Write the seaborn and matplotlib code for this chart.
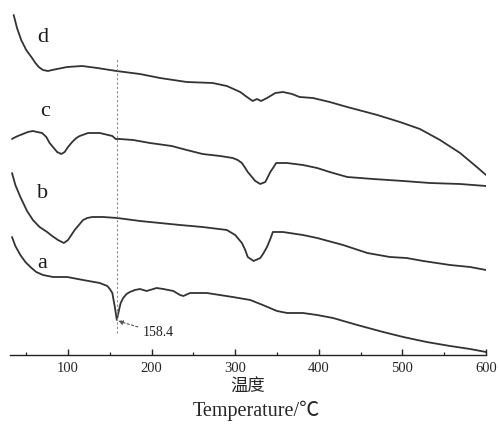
import numpy as np
import pandas as pd
import matplotlib
matplotlib.use("Agg")
import matplotlib.pyplot as plt
from matplotlib.ticker import MultipleLocator
import seaborn as sns

# DSC curves (temperature in degC, heat flow in arbitrary offset units)
temp_d = [35, 39, 44, 50, 57, 61, 65, 70, 76, 81, 87, 99, 117, 135, 158, 186, 210, 242,
          273, 290, 306, 314, 321, 326, 331, 338, 348, 357, 368, 377, 393, 413, 434,
          470, 497, 521, 545, 569, 589, 600]
heat_d = [340, 327, 315, 305, 297, 292, 288, 285, 284, 285, 286, 288, 289, 287, 284, 281, 277, 273,
          272, 269, 263, 258, 254, 256, 254, 257, 262, 263, 261, 258, 257, 253, 248,
          240, 233, 226, 215, 202, 188, 180]

temp_c = [33, 35, 40, 46, 52, 58, 63, 69, 74, 78, 83, 87, 92, 96, 100, 105, 110, 114, 124,
          138, 153, 157, 162, 178, 198, 224, 242, 261, 282, 297, 303, 308, 312, 315, 320,
          324, 330, 336, 339, 342, 346, 349, 362, 381, 398, 413, 434, 465, 501, 533, 569, 600]
heat_c = [216, 217, 219, 221, 223, 224, 223, 222, 218, 212, 207, 203, 201, 203, 208, 213, 217, 219, 222,
          222, 219, 216, 216, 215, 212, 209, 205, 201, 199, 197, 195, 192, 187, 183, 178,
          174, 171, 173, 178, 183, 188, 192, 192, 190, 187, 183, 178, 176, 174, 172, 171, 169]

temp_b = [33, 35, 37, 40, 43, 47, 51, 58, 66, 75, 81, 88, 95, 100, 104, 108, 113, 118, 123,
          129, 142, 159, 186, 210, 234, 261, 290, 300, 304, 308, 312, 315, 322, 330, 334,
          338, 342, 345, 357, 381, 398, 429, 458, 485, 505, 525, 557, 581, 600]
heat_b = [182, 176, 170, 164, 158, 151, 144, 135, 128, 123, 119, 115, 112, 115, 120, 125, 130, 135, 137,
          138, 138, 137, 134, 132, 130, 128, 125, 120, 116, 112, 105, 98, 94, 97, 102,
          108, 116, 123, 123, 120, 117, 110, 102, 98, 97, 94, 90, 88, 85]

temp_a = [33, 37, 43, 49, 55, 62, 70, 82, 99, 118, 138, 147, 150, 153, 156, 158.4, 161,
          163, 166, 170, 174, 180, 186, 194, 206, 214, 226, 234, 238, 246, 266, 297, 318,
          333, 350, 362, 381, 398, 417, 446, 477, 501, 529, 557, 581, 600]
heat_a = [118, 109, 100, 93, 88, 83, 80, 78, 78, 75, 72, 69, 66, 62, 48, 35, 45,
          52, 57, 61, 63, 65, 66, 64, 67, 66, 64, 60, 59, 62, 62, 58, 55,
          50, 44, 42, 42, 40, 37, 30, 23, 18, 13, 9, 6, 3]

curve_names = ["d", "c", "b", "a"]
peak_temp = 158.4

sns.set_style("white")
plt.rcParams["font.family"] = ["Liberation Serif", "Noto Sans CJK SC"]

fig = plt.figure(figsize=(4.99, 4.30), dpi=100)
ax = fig.add_axes([9.5 / 499, 75 / 430, (486 - 9.5) / 499, 345 / 430])

line_color = "#333333"
curves = [(temp_d, heat_d), (temp_c, heat_c), (temp_b, heat_b), (temp_a, heat_a)]
for (t, h), name in zip(curves, curve_names):
    df = pd.DataFrame({"Temperature": t, "Heat": h})
    sns.lineplot(data=df, x="Temperature", y="Heat", color=line_color,
                 linewidth=1.3, estimator=None, ax=ax,
                 solid_joinstyle="round", solid_capstyle="round")

# curve labels
label_pos = {"d": (70, 317), "c": (72, 243), "b": (70, 162), "a": (69, 92)}
for name in curve_names:
    x, y = label_pos[name]
    ax.text(x, y, name, fontsize=16, ha="center", va="center", color="#1a1a1a")

# dashed reference line at the melting peak
ax.plot([peak_temp, peak_temp], [22, 296], color="#8a8a8a",
        linestyle=(0, (2, 2)), linewidth=0.8)
ax.annotate(f"{peak_temp}", xy=(peak_temp + 1.5, 34), xytext=(189, 22),
            fontsize=10, ha="left", va="center", color="#222222",
            arrowprops=dict(arrowstyle="-|>", color="#555555", linestyle=(0, (2, 2)),
                            linewidth=0.8, shrinkA=1, shrinkB=0, mutation_scale=7))

ax.set_xlim(30, 600)
ax.set_ylim(0, 345)
ax.set_xlabel("")
ax.set_ylabel("")
ax.set_yticks([])
for side in ["left", "right", "top"]:
    ax.spines[side].set_visible(False)
ax.spines["bottom"].set_color("#222222")
ax.spines["bottom"].set_linewidth(1.0)
ax.xaxis.set_major_locator(MultipleLocator(100))
ax.xaxis.set_minor_locator(MultipleLocator(50))
ax.tick_params(axis="x", which="major", direction="in", length=4.5, width=1.0,
               color="#222222", labelsize=10.5, pad=5, bottom=True)
ax.tick_params(axis="x", which="minor", direction="in", length=2.2, width=0.9,
               color="#222222", bottom=True)

fig.text(248 / 499, 1 - 388 / 430, "温度", fontsize=12.5, ha="center", va="center")
fig.text(256 / 499, 1 - 411 / 430, "Temperature/℃", fontsize=14.5, ha="center", va="center")

fig.savefig("out.png", dpi=100)
